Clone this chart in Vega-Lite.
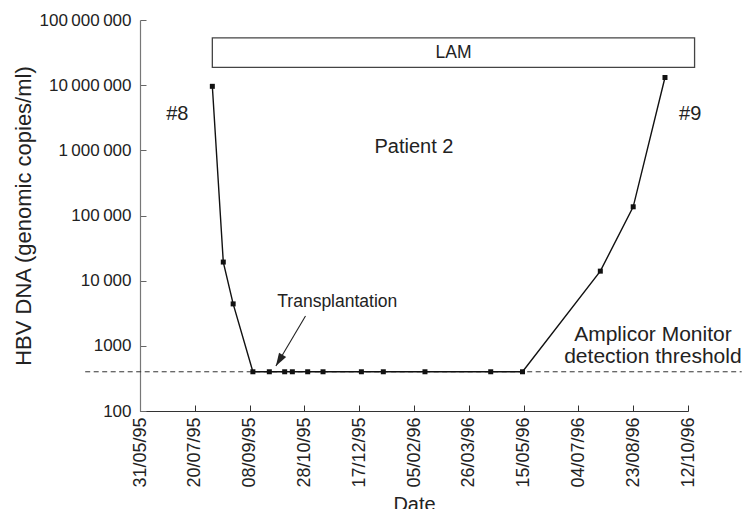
{
  "$schema": "https://vega.github.io/schema/vega-lite/v6.json",
  "width": 548,
  "height": 391,
  "autosize": {"type": "none"},
  "padding": {"left": 140, "top": 20, "right": 58, "bottom": 98},
  "config": {
    "font": "Liberation Sans",
    "view": {"stroke": null},
    "axis": {"grid": false, "labelFont": "Liberation Sans", "titleFont": "Liberation Sans", "labelFontSize": 17, "titleFontWeight": "normal", "labelColor": "#222", "titleColor": "#222"}
  },
  "datasets": {
    "obs": [
      {"date": "1995-08-05", "value": 9600000},
      {"date": "1995-08-15", "value": 19300},
      {"date": "1995-08-24", "value": 4400},
      {"date": "1995-09-11", "value": 400},
      {"date": "1995-09-26", "value": 400},
      {"date": "1995-10-10", "value": 400},
      {"date": "1995-10-17", "value": 400},
      {"date": "1995-10-31", "value": 400},
      {"date": "1995-11-14", "value": 400},
      {"date": "1995-12-19", "value": 400},
      {"date": "1996-01-08", "value": 400},
      {"date": "1996-02-15", "value": 400},
      {"date": "1996-04-15", "value": 400},
      {"date": "1996-05-14", "value": 400},
      {"date": "1996-07-24", "value": 14000},
      {"date": "1996-08-23", "value": 136000},
      {"date": "1996-09-21", "value": 13100000}
    ],
    "threshold": [{"date": "1995-04-11", "date2": "1996-11-30", "value": 400}],
    "lam": [{"date": "1995-08-05", "date2": "1996-10-18", "value": 18700000, "value2": 53000000}],
    "arrow": [{"date": "1995-10-29", "value": 2865, "date2": "1995-10-02", "value2": 490}],
    "labels17": [
      {"date": "1995-11-27", "value": 3940, "label": "Transplantation"},
      {"date": "1996-03-12", "value": 25900000, "label": "LAM"}
    ],
    "labels20": [
      {"date": "1995-07-04", "value": 2900000, "label": "#8"},
      {"date": "1996-10-14", "value": 2900000, "label": "#9"},
      {"date": "1996-02-05", "value": 906000, "label": "Patient 2"}
    ],
    "labels21": [
      {"date": "1996-09-10", "value": 1205, "label": "Amplicor Monitor"},
      {"date": "1996-09-10", "value": 540, "label": "detection threshold"}
    ]
  },
  "encoding": {
    "x": {
      "field": "date", "type": "temporal", "title": "Date",
      "scale": {"type": "utc", "nice": false, "domain": [{"year": 1995, "month": 5, "date": 31, "utc": true}, {"year": 1996, "month": 10, "date": 12, "utc": true}]},
      "axis": {
        "values": [
          {"year": 1995, "month": 5, "date": 31, "utc": true},
          {"year": 1995, "month": 7, "date": 20, "utc": true},
          {"year": 1995, "month": 9, "date": 8, "utc": true},
          {"year": 1995, "month": 10, "date": 28, "utc": true},
          {"year": 1995, "month": 12, "date": 17, "utc": true},
          {"year": 1996, "month": 2, "date": 5, "utc": true},
          {"year": 1996, "month": 3, "date": 26, "utc": true},
          {"year": 1996, "month": 5, "date": 15, "utc": true},
          {"year": 1996, "month": 7, "date": 4, "utc": true},
          {"year": 1996, "month": 8, "date": 23, "utc": true},
          {"year": 1996, "month": 10, "date": 12, "utc": true}
        ],
        "labelExpr": "utcFormat(datum.value, '%d/%m/%y')",
        "labelFontSize": 18,
        "labelAngle": 270, "labelAlign": "right", "labelBaseline": "middle",
        "tickSize": -6, "labelPadding": 12, "tickColor": "#333", "domainColor": "#333", "tickWidth": 1, "domainWidth": 1.2,
        "labelFlush": false, "labelOverlap": false, "titlePadding": 7, "titleFontSize": 20
      }
    },
    "y": {
      "field": "value", "type": "quantitative", "title": "HBV DNA (genomic copies/ml)",
      "scale": {"type": "log", "domain": [100, 100000000], "nice": false},
      "axis": {
        "values": [100, 1000, 10000, 100000, 1000000, 10000000, 100000000],
        "labelExpr": "datum.value > 5e7 ? '100\u2009000\u2009000' : datum.value > 5e6 ? '10\u2009000\u2009000' : datum.value > 5e5 ? '1\u2009000\u2009000' : datum.value > 5e4 ? '100\u2009000' : datum.value > 5e3 ? '10\u2009000' : datum.value > 500 ? '1000' : '100'",
        "tickSize": -6, "labelPadding": 15, "tickColor": "#666", "domainColor": "#777", "tickWidth": 1, "domainWidth": 1.2,
        "labelFlush": false, "labelOverlap": false, "titlePadding": 4, "titleFontSize": 22
      }
    }
  },
  "layer": [
    {
      "data": {"name": "threshold"},
      "mark": {"type": "rule", "stroke": "#333", "strokeWidth": 1, "strokeDash": [5, 3.5]},
      "encoding": {"x2": {"field": "date2"}}
    },
    {
      "data": {"name": "lam"},
      "mark": {"type": "rect", "fill": "white", "stroke": "#444", "strokeWidth": 1.3},
      "encoding": {"x2": {"field": "date2"}, "y2": {"field": "value2"}}
    },
    {
      "data": {"name": "obs"},
      "mark": {"type": "line", "color": "#111", "strokeWidth": 1.4}
    },
    {
      "data": {"name": "obs"},
      "mark": {"type": "point", "shape": "square", "filled": true, "color": "#111", "size": 25, "opacity": 1}
    },
    {
      "data": {"name": "arrow"},
      "mark": {"type": "rule", "stroke": "#222", "strokeWidth": 1.1},
      "encoding": {"x2": {"field": "date2"}, "y2": {"field": "value2"}}
    },
    {
      "data": {"name": "arrow"},
      "mark": {"type": "point", "shape": "M0,0L0.32,1L-0.32,1Z", "filled": true, "color": "#222", "size": 676, "angle": 211, "opacity": 1},
      "encoding": {
        "x": {"field": "date2", "type": "temporal", "title": "Date"},
        "y": {"field": "value2", "type": "quantitative", "title": "HBV DNA (genomic copies/ml)"}
      }
    },
    {
      "data": {"name": "labels17"},
      "mark": {"type": "text", "fontSize": 17.5, "color": "#222", "align": "center", "baseline": "alphabetic"},
      "encoding": {"text": {"field": "label"}}
    },
    {
      "data": {"name": "labels20"},
      "mark": {"type": "text", "fontSize": 20, "color": "#222", "align": "center", "baseline": "alphabetic"},
      "encoding": {"text": {"field": "label"}}
    },
    {
      "data": {"name": "labels21"},
      "mark": {"type": "text", "fontSize": 21, "color": "#222", "align": "center", "baseline": "alphabetic"},
      "encoding": {"text": {"field": "label"}}
    }
  ]
}
